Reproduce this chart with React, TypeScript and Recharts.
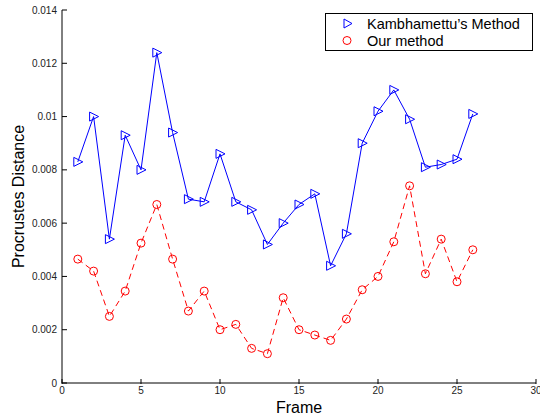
import { LineChart, Line, XAxis, YAxis } from "recharts"

const frames = [1, 2, 3, 4, 5, 6, 7, 8, 9, 10, 11, 12, 13, 14, 15, 16, 17, 18, 19, 20, 21, 22, 23, 24, 25, 26]
const kambhamettu = [
  0.0083, 0.01, 0.0054, 0.0093, 0.008, 0.0124, 0.0094, 0.0069, 0.0068, 0.0086, 0.0068, 0.0065, 0.0052,
  0.006, 0.0067, 0.0071, 0.0044, 0.0056, 0.009, 0.0102, 0.011, 0.0099, 0.0081, 0.0082, 0.0084, 0.0101,
]
const ours = [
  0.00465, 0.0042, 0.0025, 0.00345, 0.00525, 0.0067, 0.00465, 0.0027, 0.00345, 0.002, 0.0022, 0.0013, 0.0011,
  0.0032, 0.002, 0.0018, 0.0016, 0.0024, 0.0035, 0.004, 0.0053, 0.0074, 0.0041, 0.0054, 0.0038, 0.005,
]
const xTicks = [0, 5, 10, 15, 20, 25, 30]
const yTicks = [0, 0.002, 0.004, 0.006, 0.008, 0.01, 0.012, 0.014]

const data = frames.map((f, i) => ({ frame: f, k: kambhamettu[i], o: ours[i] }))

const FONT = "'Liberation Sans', Arial, Helvetica, sans-serif"

const Tri = (props: any) => {
  const { cx, cy } = props
  if (cx == null || cy == null) return null
  return (
    <polygon
      points={`${cx - 4},${cy - 4.5} ${cx + 5},${cy} ${cx - 4},${cy + 4.5}`}
      fill="none"
      stroke="#0000ff"
      strokeWidth={1}
    />
  )
}

const Circ = (props: any) => {
  const { cx, cy } = props
  if (cx == null || cy == null) return null
  return <circle cx={cx} cy={cy} r={4} fill="none" stroke="#ff0000" strokeWidth={1} />
}

const YTick = (props: any) => {
  const { x, y, payload } = props
  return (
    <g>
      <line x1={x + 5} x2={x + 10} y1={y} y2={y} stroke="#000" />
      <text x={x} y={y} dy="0.35em" textAnchor="end" fontSize={10} fill="#222" fontFamily={FONT}>
        {payload.value}
      </text>
    </g>
  )
}

const XTick = (props: any) => {
  const { x, y, payload } = props
  return (
    <g>
      <line x1={x} x2={x} y1={y - 3} y2={y - 8} stroke="#000" />
      <text x={x} y={y} dy="0.71em" textAnchor="middle" fontSize={10} fill="#222" fontFamily={FONT}>
        {payload.value}
      </text>
    </g>
  )
}

const LegendBox = () => (
  <div
    style={{
      position: "absolute",
      left: 325,
      top: 13,
      border: "1px solid #000",
      background: "#fff",
      width: 208,
      height: 38,
      boxSizing: "border-box",
      fontFamily: FONT,
      fontSize: 14.5,
      color: "#000",
      paddingTop: 1,
    }}
  >
    <div style={{ display: "flex", alignItems: "center", height: 17 }}>
      <svg width={41} height={17}>
        <polygon points="18,4 26,8.5 18,13" fill="none" stroke="#0000ff" />
      </svg>
      <span>Kambhamettu’s Method</span>
    </div>
    <div style={{ display: "flex", alignItems: "center", height: 17 }}>
      <svg width={41} height={17}>
        <circle cx={21} cy={8.5} r={4} fill="none" stroke="#ff0000" />
      </svg>
      <span>Our method</span>
    </div>
  </div>
)

export default function App() {
  return (
    <div style={{ position: "absolute", left: 0, top: 0, width: 540, height: 417, background: "#fff" }}>
      <LineChart width={540} height={417} data={data} margin={{ top: 10, right: 4, bottom: 0, left: 8 }}>
        <XAxis
          dataKey="frame"
          type="number"
          domain={[0, 30]}
          ticks={xTicks}
          interval={0}
          height={34}
          tickSize={0}
          tickMargin={4}
          tickLine={false}
          tick={<XTick />}
          axisLine={{ stroke: "#000" }}
          label={{ value: "Frame", position: "insideBottom", offset: 4, fontSize: 16, fill: "#000", fontFamily: FONT }}
        />
        <YAxis
          type="number"
          domain={[0, 0.014]}
          ticks={yTicks}
          interval={0}
          width={54}
          tickSize={0}
          tickMargin={5}
          tickLine={false}
          tick={<YTick />}
          axisLine={{ stroke: "#000" }}
          label={{
            value: "Procrustes Distance",
            angle: -90,
            position: "insideLeft",
            offset: 10,
            fontSize: 16,
            fill: "#000",
            fontFamily: FONT,
            style: { textAnchor: "middle" },
          }}
        />
        <Line
          dataKey="k"
          stroke="#0000ff"
          strokeWidth={1}
          dot={<Tri />}
          activeDot={false}
          isAnimationActive={false}
        />
        <Line
          dataKey="o"
          stroke="#ff0000"
          strokeWidth={1}
          strokeDasharray="6 4"
          dot={<Circ />}
          activeDot={false}
          isAnimationActive={false}
        />
      </LineChart>
      <LegendBox />
    </div>
  )
}
